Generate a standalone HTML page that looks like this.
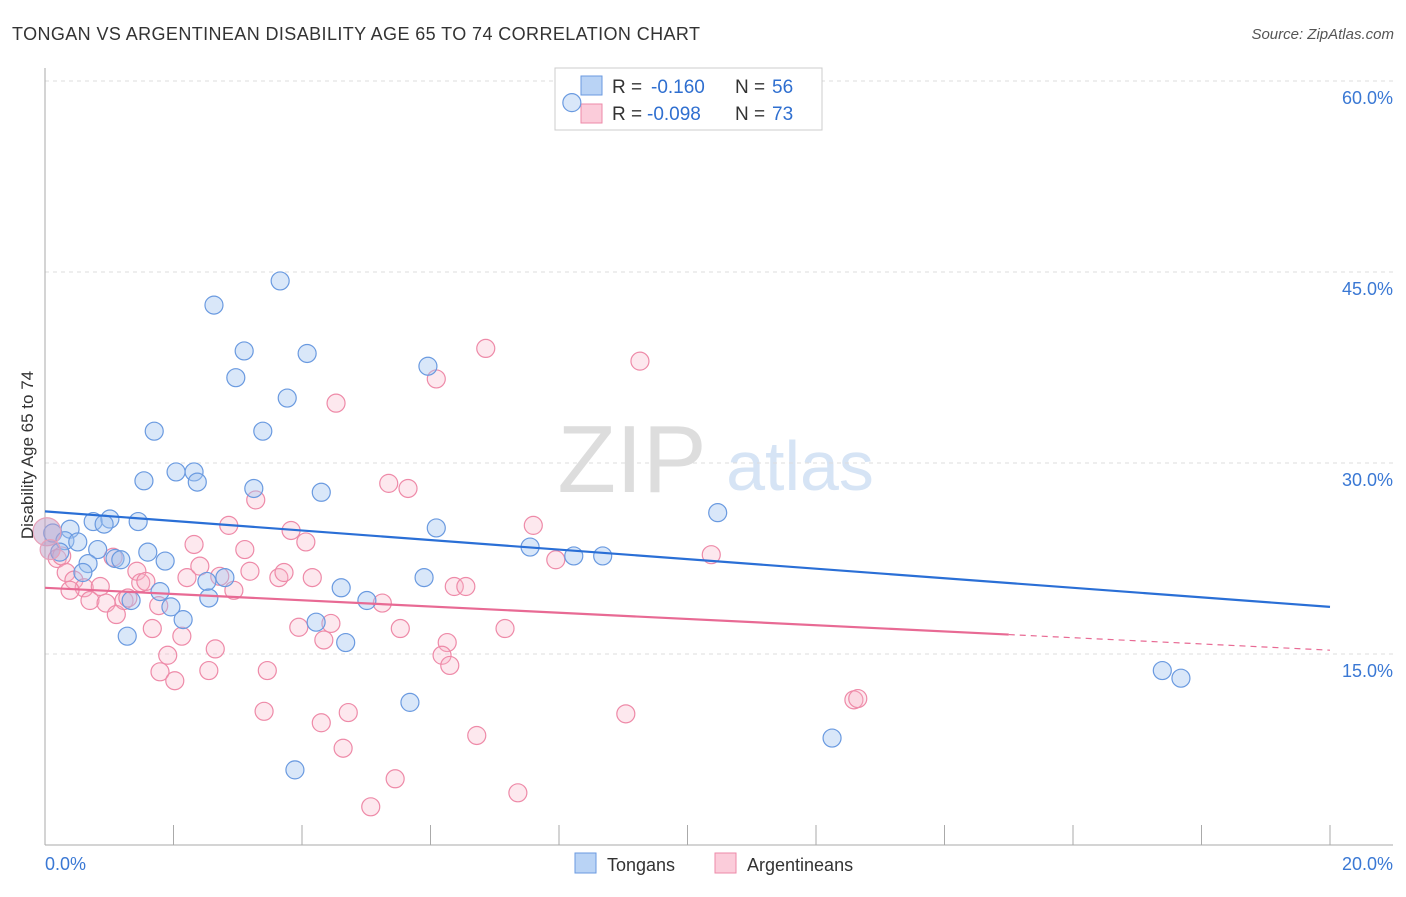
<!DOCTYPE html>
<html><head><meta charset="utf-8"><style>
body{margin:0;background:#fff;font-family:"Liberation Sans",sans-serif}
svg text{font-family:"Liberation Sans",sans-serif}
</style></head><body>
<svg id="c" width="1406" height="892">
<text x="12" y="40" font-size="18" fill="#333" textLength="688">TONGAN VS ARGENTINEAN DISABILITY AGE 65 TO 74 CORRELATION CHART</text>
<text x="1394" y="39" font-size="15" fill="#555" text-anchor="end" font-style="italic">Source: ZipAtlas.com</text>
<g><text x="632" y="492" font-size="96" fill="#ddd" text-anchor="middle" font-family="Liberation Serif, serif">ZIP</text><text x="800" y="490" font-size="70" fill="#d6e4f5" text-anchor="middle">atlas</text></g>
<g id="grid"></g><g id="axes"></g>
<g>
<rect x="555" y="68" width="267" height="62" fill="#fff" stroke="#ccc"/>
<rect x="581" y="76" width="21" height="19" fill="#b9d3f5" stroke="#6a9ae0"/>
<rect x="581" y="104" width="21" height="19" fill="#fbccda" stroke="#ee8aa8"/>
<text x="612" y="93" font-size="19" fill="#333">R =</text><text x="651" y="93" font-size="19" fill="#2f6fd0">-0.160</text>
<text x="735" y="93" font-size="19" fill="#333">N =</text><text x="772" y="93" font-size="19" fill="#2f6fd0">56</text>
<text x="612" y="120" font-size="19" fill="#333">R =</text><text x="647" y="120" font-size="19" fill="#2f6fd0">-0.098</text>
<text x="735" y="120" font-size="19" fill="#333">N =</text><text x="772" y="120" font-size="19" fill="#2f6fd0">73</text>
</g>
<g id="pts"></g><g id="lines"></g>
<text transform="translate(33,455) rotate(-90)" font-size="17" fill="#333" text-anchor="middle">Disability Age 65 to 74</text>
<g>
<rect x="575" y="853" width="21" height="20" fill="#b9d3f5" stroke="#6a9ae0"/>
<text x="607" y="871" font-size="18" fill="#333">Tongans</text>
<rect x="715" y="853" width="21" height="20" fill="#fbccda" stroke="#ee8aa8"/>
<text x="747" y="871" font-size="18" fill="#333">Argentineans</text>
</g>
</svg>
<script>
const xTicks=[0,20];
const yTicks=[15,30,45,60];
const blueX=[8.20,3.66,2.63,3.10,4.08,2.97,5.96,3.77,1.70,3.39,2.04,2.32,2.37,1.54,3.25,4.30,10.47,6.09,7.55,8.23,8.68,0.39,0.75,1.01,0.92,1.45,0.12,0.31,0.51,0.82,0.23,0.67,0.59,1.09,1.18,1.60,1.87,2.80,2.52,1.34,1.96,1.79,2.55,4.61,5.01,5.90,1.28,2.15,4.22,4.68,5.68,3.89,12.25,17.39,17.68];
const blueY=[58.3,44.3,42.4,38.8,38.6,36.7,37.6,35.1,32.5,32.5,29.3,29.3,28.5,28.6,28.0,27.7,26.1,24.9,23.4,22.7,22.7,24.8,25.4,25.6,25.2,25.4,24.5,23.9,23.8,23.2,23.0,22.1,21.4,22.5,22.4,23.0,22.3,21.0,20.7,19.2,18.7,19.9,19.4,20.2,19.2,21.0,16.4,17.7,17.5,15.9,11.2,5.9,8.4,13.7,13.1];
const pinkX=[6.86,9.26,6.09,4.53,5.35,5.65,3.28,7.60,2.86,3.83,4.06,2.32,3.11,7.95,10.37,1.06,0.19,0.26,0.33,0.45,0.61,0.86,0.39,0.70,0.95,1.43,1.49,1.57,1.11,1.23,1.29,2.21,2.41,2.72,3.19,3.64,3.72,4.16,2.94,1.77,1.67,2.13,1.91,1.79,2.02,2.65,2.55,3.46,3.41,3.95,4.45,4.34,5.53,5.25,6.37,6.55,6.26,6.18,6.30,7.16,4.30,4.72,4.64,5.45,5.07,6.72,7.36,9.04,12.59,12.65];
const pinkY=[39.0,38.0,36.6,34.7,28.4,28.0,27.1,25.1,25.1,24.7,23.8,23.6,23.2,22.4,22.8,22.6,22.5,22.7,21.4,20.8,20.2,20.3,20.0,19.2,19.0,21.5,20.6,20.7,18.1,19.2,19.4,21.0,21.9,21.1,21.5,21.0,21.4,21.0,20.0,18.8,17.0,16.4,14.9,13.6,12.9,15.4,13.7,13.7,10.5,17.1,17.4,16.1,17.0,19.0,20.3,20.3,15.9,14.9,14.1,17.0,9.6,10.4,7.6,5.2,3.0,8.6,4.1,10.3,11.4,11.5];
const bigX=[0.03,0.08];const bigY=[24.6,23.2];
const blueLine=[26.2,18.7];
const pinkLine=[20.2,15.3];const pinkSolidEnd=15;
const X=v=>45+v/20*1285, Y=v=>845-v/15*191;
const NS="http://www.w3.org/2000/svg";
function mk(p,t,a){const e=document.createElementNS(NS,t);for(const k in a)e.setAttribute(k,a[k]);p.appendChild(e);return e;}
const grid=document.getElementById('grid'),axes=document.getElementById('axes'),pts=document.getElementById('pts'),lines=document.getElementById('lines');
yTicks.forEach(t=>{const l=mk(grid,'line',{x1:45,x2:1393,y1:Y(t),y2:Y(t),stroke:'#ddd','stroke-dasharray':'4,4'});


const tx=mk(grid,'text',{x:1393,y:Y(t)+23,'font-size':18,fill:'#3a78d4','text-anchor':'end'});tx.textContent=t.toFixed(1)+'%';

});
mk(axes,'line',{x1:45,x2:45,y1:68,y2:845,stroke:'#aaa'});
mk(axes,'line',{x1:45,x2:1393,y1:845,y2:845,stroke:'#aaa'});
for(let i=0;i<=10;i++){mk(axes,'line',{x1:X(i*2),x2:X(i*2),y1:825,y2:845,stroke:'#aaa'});}
xTicks.forEach((t,i)=>{const tx=mk(axes,'text',{x:i?1393:45,y:870,'font-size':18,fill:'#3a78d4','text-anchor':i?'end':'start'});tx.textContent=t.toFixed(1)+'%';

});
function dot(x,y,r,f,s,n){const c=mk(pts,'circle',{cx:X(x),cy:Y(y),r:r,fill:f,stroke:s,'stroke-width':1.2});

}
pinkX.forEach((x,i)=>dot(x,pinkY[i],9,'rgba(248,180,200,0.3)','#ee8aa8','argentinean-point'));
blueX.forEach((x,i)=>dot(x,blueY[i],9,'rgba(160,196,240,0.4)','#6a9ae0','tongan-point'));
dot(bigX[0],bigY[0],14,'rgba(190,160,200,0.5)','#e8a0b8','tongan-point-large');
dot(bigX[1],bigY[1],10,'rgba(190,160,200,0.5)','#e8a0b8','argentinean-point-large');
const bl=mk(lines,'line',{x1:X(0),y1:Y(blueLine[0]),x2:X(20),y2:Y(blueLine[1]),stroke:'#2a6fd6','stroke-width':2.2});


const py=x=>pinkLine[0]+(pinkLine[1]-pinkLine[0])*x/20;
const pl=mk(lines,'line',{x1:X(0),y1:Y(py(0)),x2:X(pinkSolidEnd),y2:Y(py(pinkSolidEnd)),stroke:'#e86a94','stroke-width':2.2});


const pd=mk(lines,'line',{x1:X(pinkSolidEnd),y1:Y(py(pinkSolidEnd)),x2:X(20),y2:Y(py(20)),stroke:'#e86a94','stroke-width':1.2,'stroke-dasharray':'6,5'});


</script>
</body></html>
